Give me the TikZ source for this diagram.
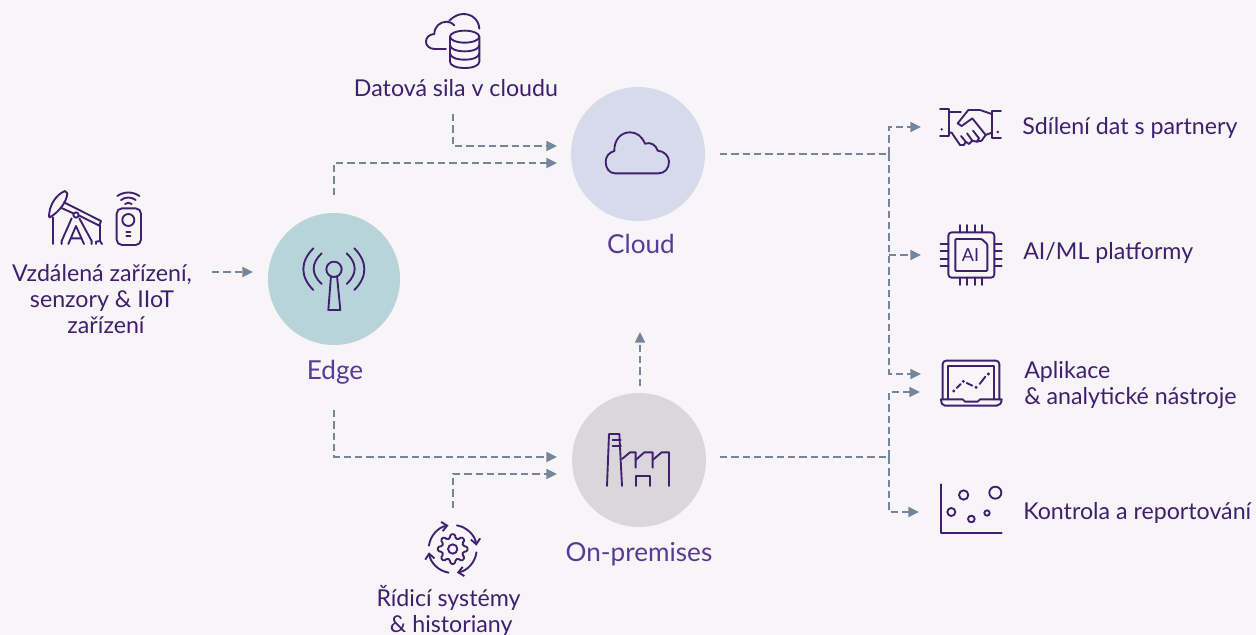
\documentclass[tikz,border=0pt]{standalone}
\usepackage{fontspec}
\usetikzlibrary{arrows.meta}
\setmainfont{Lato}
\definecolor{bgc}{HTML}{F7F5F7}
\definecolor{edgec}{HTML}{B8D4DA}
\definecolor{cloudc}{HTML}{D7DAEB}
\definecolor{premc}{HTML}{D9D7DB}
\definecolor{ink}{HTML}{40206E}
\definecolor{lab}{HTML}{5B3A96}
\definecolor{conn}{HTML}{76869A}
\tikzset{
  hub/.style={circle,minimum size=100.5pt,inner sep=0pt,draw=none},
  hublabel/.style={anchor=base,text=lab,font=\fontsize{19.6}{24}\selectfont,inner sep=0pt},
  txt/.style={text=ink,font=\fontsize{17.4}{19.5}\selectfont,inner sep=0pt},
  link/.style={draw=conn,line width=1.1pt,dash pattern=on 5.5pt off 3pt},
  linka/.style={link,-{Triangle[length=8pt,width=7.5pt,fill=conn]}},
  ico/.style={draw=ink,line width=1.4pt,line cap=round,line join=round},
  zm/.style={x=0.25pt,y=-0.25pt},
  barb/.style={-{Straight Barb[length=4pt,width=7pt]}}
}
\begin{document}
\begin{tikzpicture}[x=0.75pt,y=-0.75pt]
\useasboundingbox (0,0) rectangle (1256,635);
\fill[bgc] (0,0) rectangle (1256,635);
% hubs
\node[hub,fill=edgec,minimum size=99pt] (edge) at (334,279) {};
\node[hub,fill=cloudc] (cloud) at (638,154) {};
\node[hub,fill=premc] (prem) at (639,460) {};
\node[hublabel] (edgeL) at (335,379) {Edge};
\node[hublabel] (cloudL) at (641,253) {Cloud};
\node[hublabel] (premL) at (639,561) {On-premises};
% labels
\node[txt,anchor=base] (sila) at (456,96) {Datová sila v cloudu};
\node[txt,align=center,anchor=north] (remote) at (102,264) {Vzdálená zařízení,\\senzory \& IIoT\\\hspace*{6pt}zařízení};
\node[txt,align=center,anchor=north] (ctrl) at (448.5,585) {Řídicí systémy\\\hspace*{4pt}\& historiany};
\node[txt,anchor=base west] (t1) at (1022,134) {Sdílení dat s partnery};
\node[txt,anchor=base west] (t2) at (1023,259) {AI/ML platformy};
\node[txt,anchor=north west,align=left] (t3) at (1024,361) {Aplikace\\\& analytické nástroje};
\node[txt,anchor=base west] (t4) at (1023,519) {Kontrola a reportování};
% connector coordinates
\coordinate (silaOut) at (453,114);
\coordinate (silaBend) at (453,146);
\coordinate (cloudIn1) at (557,146);
\coordinate (edgeUp) at (334,195);
\coordinate (edgeBend1) at (334,163);
\coordinate (cloudIn2) at (557,163);
\coordinate (remOut) at (212,272);
\coordinate (edgeIn) at (253,272);
\coordinate (edgeDn) at (334,410);
\coordinate (edgeBend2) at (334,457);
\coordinate (premIn1) at (557,457);
\coordinate (ctrlOut) at (453,508);
\coordinate (ctrlBend) at (453,474);
\coordinate (premIn2) at (557,474);
\coordinate (premUp) at (640,386);
\coordinate (premUpEnd) at (640,332);
\coordinate (cloudOut) at (720,154);
\coordinate (jc) at (889,154);
\coordinate (b1) at (889,127);
\coordinate (e1) at (921,127);
\coordinate (b2) at (889,255);
\coordinate (e2) at (921,255);
\coordinate (b3) at (889,374);
\coordinate (e3) at (921,374);
\coordinate (premOut) at (720,457);
\coordinate (jp) at (889,457);
\coordinate (b4) at (889,392);
\coordinate (e4) at (920,392);
\coordinate (b5) at (889,512);
\coordinate (e5) at (919,512);
% connectors
\draw[linka] (silaOut) -- (silaBend) -- (cloudIn1);
\draw[linka] (edgeUp) -- (edgeBend1) -- (cloudIn2);
\draw[linka] (remOut) -- (edgeIn);
\draw[linka] (edgeDn) -- (edgeBend2) -- (premIn1);
\draw[linka] (ctrlOut) -- (ctrlBend) -- (premIn2);
\draw[linka] (premUp) -- (premUpEnd);
\draw[link] (cloudOut) -- (jc);
\draw[linka] (jc) -- (b1) -- (e1);
\draw[linka] (b2) -- (e2);
\draw[linka] (jc) -- (b3) -- (e3);
\draw[link] (premOut) -- (jp);
\draw[linka] (jp) -- (b4) -- (e4);
\draw[linka] (jp) -- (b5) -- (e5);
% cloud icon
\begin{scope}[shift={(590,120)},zm,ico]
\draw (75,160) -- (205,160) .. controls (225,160) and (237,145) .. (237,125)
  .. controls (237,108) and (222,93) .. (203,92) .. controls (198,75) and (182,65) .. (165,71)
  .. controls (155,48) and (140,37) .. (120,37) .. controls (92,37) and (72,60) .. (73,93)
  .. controls (57,97) and (47,110) .. (47,125) .. controls (47,145) and (58,160) .. (75,160) -- cycle;
\end{scope}
% database cloud
\begin{scope}[shift={(340,0)},zm,ico]
\draw (318,147) -- (285,147) .. controls (268,147) and (258,137) .. (258,125)
  .. controls (258,112) and (268,103) .. (283,102) .. controls (283,80) and (300,65) .. (320,65)
  .. controls (330,65) and (338,70) .. (343,76);
\draw (328,62) .. controls (340,50) and (355,42) .. (370,42) .. controls (397,42) and (416,60) .. (418,86);
\draw (374,110) ellipse[x radius=44,y radius=18];
\draw (330,110) -- (330,185) .. controls (330,197) and (350,204) .. (374,204) .. controls (398,204) and (418,197) .. (418,185) -- (418,110);
\draw (330,135) .. controls (330,147) and (350,154) .. (374,154) .. controls (398,154) and (418,147) .. (418,135);
\draw (330,160) .. controls (330,172) and (350,179) .. (374,179) .. controls (398,179) and (418,172) .. (418,160);
\end{scope}
% pump
\begin{scope}[shift={(40,185)},zm,ico]
\draw (27,95) .. controls (27,65) and (45,30) .. (75,18) -- (82,25) .. controls (80,50) and (60,78) .. (30,97) -- cycle;
\draw (72,52) -- (183,108) -- (178,122) -- (118,92);
\draw (100,85) -- (62,68);
\draw (108,90) circle[radius=8];
\draw (38,97) -- (38,177);
\draw (95,100) -- (65,168) -- (65,177);
\draw (108,123) -- (85,177) (108,123) -- (132,177) (92,160) -- (125,160);
\draw (118,100) -- (155,168) -- (155,177);
\draw (180,122) -- (180,168) -- (168,170) -- (168,177);
\draw (180,168) -- (186,177);
\end{scope}
% remote
\begin{scope}[shift={(0,170)},zm,ico]
\draw[rounded corners=4pt] (350,115) rectangle (423,225);
\draw (385,150) circle[radius=18];
\draw (379,187) -- (391,187) (379,198) -- (391,198);
\draw (352,78) .. controls (372,64) and (398,64) .. (418,78);
\draw (363,90) .. controls (377,80) and (393,80) .. (407,90);
\draw (375,102) .. controls (381,97) and (389,97) .. (395,102);
\end{scope}
% antenna
\begin{scope}[shift={(260,200)},zm,ico]
\draw (222,208) circle[radius=23];
\draw (213,228) -- (205,330) -- (241,330) -- (231,228);
\draw (160,145) .. controls (120,185) and (120,230) .. (160,270);
\draw (185,160) .. controls (153,190) and (153,222) .. (185,252);
\draw (260,160) .. controls (292,190) and (292,222) .. (260,252);
\draw (283,145) .. controls (323,185) and (323,230) .. (283,270);
\end{scope}
% factory
\begin{scope}[shift={(590,425)},zm,ico]
\draw (51,183) -- (57,27) -- (88,27) -- (96,183);
\draw (68,45) -- (92,45) (68,63) -- (93,63);
\draw (96,102) -- (120,82) -- (137,82) -- (137,128);
\draw (137,105) -- (163,82) -- (188,82) -- (188,128);
\draw (188,105) -- (215,82) -- (237,82) -- (237,183);
\draw (137,183) -- (137,153) -- (180,153) -- (180,183);
\end{scope}
% gear
\begin{scope}[shift={(452.7,549)},zm,ico]
\draw (0,0) circle[radius=14];
\draw[rounded corners=1pt] (-14:33) \foreach \a in {0,45,...,315}{ -- (\a-14:33) -- (\a-9:45) -- (\a+9:45) -- (\a+14:33)} -- cycle;
\draw[barb] (-80:72) arc[start angle=-80,end angle=-8,radius=72];
\draw[barb] (8:72) arc[start angle=8,end angle=80,radius=72];
\draw[barb] (100:72) arc[start angle=100,end angle=172,radius=72];
\draw[barb] (188:72) arc[start angle=188,end angle=260,radius=72];
\end{scope}
% handshake
\begin{scope}[shift={(935,100)},zm,ico]
\draw (15,27) -- (42,27) -- (42,108) -- (15,108);
\draw (198,33) -- (170,33) -- (170,115) -- (198,115);
\fill[ink] (20,88) circle[radius=4] (188,96) circle[radius=4];
\draw (42,35) -- (78,35);
\draw (170,42) -- (135,30) -- (100,30) -- (68,70) -- (80,78) -- (112,55) -- (152,105) -- (140,122) -- (125,125);
\draw (152,105) -- (170,98);
\draw (42,98) -- (50,98) -- (75,135) -- (87,135) -- (92,125) -- (78,108);
\draw (92,125) -- (102,132) -- (112,122) -- (96,100);
\draw (112,122) -- (125,125) -- (132,115) -- (114,92);
\end{scope}
% chip
\begin{scope}[shift={(880,90)},zm,ico]
\draw[rounded corners=2.5pt] (205,427) rectangle (343,563);
\draw[rounded corners=0.7pt] (226,447) -- (305,447) -- (322,463) -- (322,543) -- (226,543) -- cycle;
\foreach \p in {241,262,284,305}{
  \draw (\p,405) -- (\p,427) (\p,563) -- (\p,585);
}
\foreach \p in {463,484,506,527}{
  \draw (182,\p) -- (205,\p) (343,\p) -- (365,\p);
}
\end{scope}
\node[text=ink,font=\fontsize{13.5}{15}\selectfont,inner sep=0pt] (ai) at (970.5,255) {AI};
% laptop
\begin{scope}[shift={(880,340)},zm,ico]
\draw[rounded corners=2.5pt] (188,178) -- (188,62) -- (358,62) -- (358,178);
\draw (204,178) -- (204,78) -- (343,78) -- (343,178);
\draw (183,178) -- (248,178) -- (255,185) -- (293,185) -- (300,178) -- (365,178) .. controls (365,190) and (358,197) .. (350,197) -- (195,197) .. controls (188,197) and (183,190) .. (183,178) -- cycle;
\fill[ink] (221,153) circle[radius=5] (250,124) circle[radius=5] (288,142) circle[radius=5] (325,102) circle[radius=5];
\draw (230,144) -- (242,132) (260,129) -- (277,137) (299,132) -- (316,110);
\end{scope}
% scatter
\begin{scope}[shift={(880,340)},zm,ico]
\draw (183,433) -- (183,580) -- (365,580);
\draw (251,465) circle[radius=14] (346,458) circle[radius=18] (214,516) circle[radius=12] (274,537) circle[radius=10] (321,519) circle[radius=8];
\end{scope}
\end{tikzpicture}
\end{document}
